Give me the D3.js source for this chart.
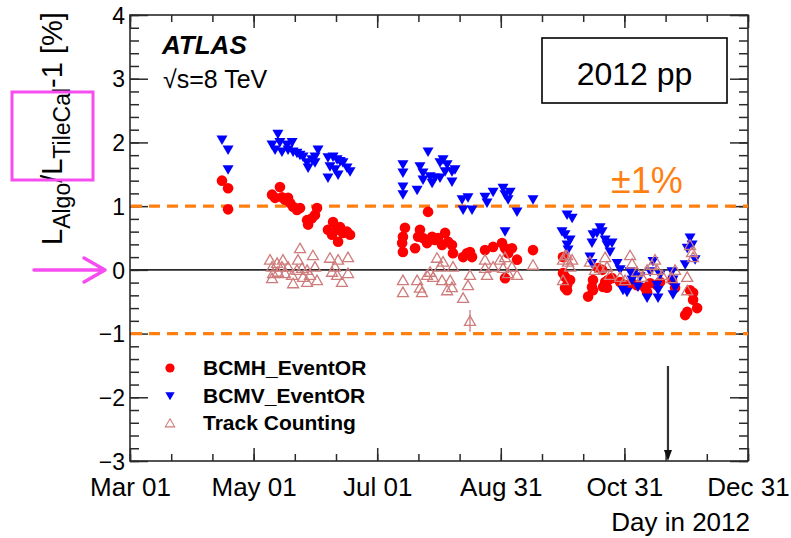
<!DOCTYPE html>
<html><head><meta charset="utf-8">
<script src="https://cdn.jsdelivr.net/npm/d3@7"></script>
<style>
body{margin:0;background:#fff}
svg{display:block}
text{font-family:"Liberation Sans",Arial,Helvetica,sans-serif;fill:#000}
</style></head><body>
<svg id="chart" width="791" height="538"></svg>
<script>
// Day-of-year axis (2012 is a leap year: Mar 01 = day 61, Dec 31 = day 366)
const dayTicks = [61, 122, 183, 244, 305, 366];
const dayLabels = ["Mar 01", "May 01", "Jul 01", "Aug 31", "Oct 31", "Dec 31"];
const yTicks = [-3, -2, -1, 0, 1, 2, 3, 4];
const bandLimits = [1, -1];

// [day of year, L_algo/L_TileCal - 1 in %]
const bcmh = [
  [106.4,1.40],[109.4,1.28],[109.4,0.95],
  [135,1.30],[131.1,1.18],[132.6,1.13],[136,1.14],[137.5,1.10],[139,1.13],[140,1.05],[141.5,0.99],
  [143.4,0.94],[144.9,0.97],[148.4,0.78],[148.9,0.71],[150.8,0.81],[152.3,0.86],[153.3,0.97],
  [158.7,0.63],[160.7,0.55],[161.2,0.75],[163.2,0.63],[164.7,0.67],[163.7,0.44],[166.1,0.58],
  [168.1,0.60],[169.6,0.55],
  [196.7,0.66],[195.7,0.52],[195.3,0.42],[195.7,0.28],[201.7,0.34],[204.1,0.63],[203.2,0.52],
  [205.6,0.50],[208.1,0.91],[207.6,0.42],[210.1,0.52],[211.5,0.47],[213,0.50],[215,0.39],
  [216.5,0.58],[218,0.44],[219.9,0.39],[220.4,0.26],[225.4,0.20],[227.3,0.26],[228.8,0.28],
  [229.8,0.20],[236.2,0.31],[240.2,0.36],[244.6,0.42],[246.1,0.34],[247.6,0.26],[249.5,0.34],
  [252,0.16],[246.1,-0.13],[259.9,0.31],
  [274.7,-0.05],[275.7,-0.28],[274.7,0.20],[275.7,-0.11],[276.7,-0.24],[276.7,-0.32],[278.2,-0.16],
  [287.1,-0.42],[289,-0.27],[289.5,-0.32],[289.5,-0.16],[292,0.03],[294,0.0],[294.5,-0.27],
  [295.5,-0.19],[296.9,-0.16],[296.4,-0.28],[298.9,-0.13],[302.9,-0.19],[305.3,-0.24],[308.8,-0.21],
  [311.2,-0.24],[315.2,-0.28],[316.2,-0.35],[317.7,-0.21],[321.1,-0.24],[322.6,-0.19],[328.5,-0.16],
  [330,-0.28],[335,-0.71],[336,-0.66],[337.4,-0.32],[338.9,-0.36],[338.9,-0.47],[340.9,-0.60]
];

const bcmv = [
  [106.4,2.04],[109.4,1.88],[109.4,1.57],
  [134,2.13],[131.1,1.96],[132.6,1.88],[135,2.0],[136,1.85],[138.5,1.96],[139,1.88],[141,2.0],
  [141.5,1.85],[143.4,1.83],[144.9,1.80],[146.4,1.77],[148.4,1.68],[148.9,1.60],[150.8,1.73],
  [152.3,1.77],[153.8,1.88],[152.3,1.68],[158.7,1.76],[159.7,1.62],[158.7,1.44],[161.2,1.77],
  [162.2,1.57],[163.7,1.49],[164.7,1.70],[166.1,1.68],[168.1,1.60],[169.6,1.54],[163.2,1.73],
  [195.7,1.65],[195.7,1.52],[195.7,1.30],[195.7,1.18],[202.7,1.25],[204.1,1.62],[205.6,1.52],
  [205.6,1.41],[208.1,1.85],[209.1,1.46],[210.1,1.36],[211.5,1.44],[214,1.68],[214,1.44],
  [215.5,1.73],[216.5,1.54],[217.5,1.65],[219.9,1.54],[219.9,1.38],[221.4,1.57],[224.9,1.10],
  [225.4,0.94],[227.8,1.13],[229.8,0.94],[236.2,1.14],[237.2,1.05],[240.2,1.22],[245.1,1.28],
  [246.1,1.18],[247.6,1.10],[248.6,1.22],[252,0.91],[246.1,0.60],[259.9,1.10],
  [274.2,0.60],[275.7,0.55],[276.7,0.39],[276.7,0.86],[279.2,0.81],[278.2,0.47],[277.2,0.31],
  [289,0.42],[289.5,0.55],[291.5,0.58],[293,0.66],[294,0.60],[288,0.20],[289,0.10],[295.5,0.47],
  [296.4,0.39],[298.9,0.42],[297.9,0.28],[301.4,0.10],[302.9,0.0],[304.3,-0.32],[306.3,-0.35],
  [307.8,-0.03],[308.8,-0.16],[309.3,-0.08],[311.7,-0.27],[312.7,-0.11],[316.2,-0.44],[317.7,-0.03],
  [319.1,0.13],[321.1,-0.24],[321.6,-0.32],[322.6,-0.08],[321.6,-0.44],[328.5,-0.03],[329,-0.16],
  [330,-0.28],[329,-0.39],[335,0.08],[336,0.34],[337.4,0.50],[338.4,0.39],[339.9,0.16]
];

// optional third entry: uncertainty in %
const track = [
  [144.9,0.34],[130.1,0.16],[131.1,0.05],[131.6,-0.05],[131.1,-0.13],[133.6,0.11],[134,-0.03],
  [136,0.05],[136.5,0.16],[137.5,-0.05],[139,0.05],[141,-0.08],[141.5,-0.21],[143.4,0.0],
  [143.9,0.16],[145.9,0.03],[146.4,-0.11],[148.4,-0.19],[148.4,0.0],[151.3,0.23],[152.3,0.05],
  [153.3,-0.16],[149.8,-0.08],[159.7,0.19],[160.7,-0.03],[162.2,0.05],[163.2,-0.08],[163.7,0.16],
  [165.6,-0.19],[168.6,0.20],[168.6,-0.05],
  [195.7,-0.16],[195.7,-0.35],[202.7,-0.16],[204.1,-0.28],[205.1,-0.35],[207.6,-0.08],[209.1,-0.03],
  [210.6,-0.11],[212.5,0.19],[214,0.05],[215,-0.16],[215.5,0.13],[217.5,-0.32],[219,-0.16],
  [219.9,-0.27],[220.4,0.05],[225.4,-0.44],[227.8,-0.24],[228.8,-0.08],[228.8,-0.80,0.17],
  [236.2,0.16],[236.2,0.03],[237.2,-0.08],[240.2,0.05],[243.6,0.16],[245.1,0.03],[246.1,0.20],
  [247.6,-0.05],[249.5,0.05],[252,-0.08],[259.9,0.08],
  [274.7,0.16],[276.7,0.23],[278.2,0.05],[274.7,-0.16],[275.7,0.23],[277.2,0.13],[279.2,0.16],
  [288,0.13],[290.5,0.0],[293,0.03],[295.5,0.20],[296.4,0.05],[297.9,-0.08],[302.9,-0.11],
  [305.3,-0.16],[307.8,0.23],[308.8,0.10],[311.2,-0.03],[313.7,-0.11],[316.2,0.0],[318.6,0.08],
  [320.1,0.16],[321.1,0.0],[323.6,-0.08],[328.5,-0.13],[330,0.0],[336,-0.11],[336,-0.32],
  [337.4,0.39],[338.4,0.28],[338.9,0.20]
];

const legendItems = ["BCMH_EventOR", "BCMV_EventOR", "Track Counting"];
const markedDay = 326.5;

const svg = d3.select("#chart");
const x = d3.scaleLinear().domain([61, 366]).range([130, 748]);
const y = d3.scaleLinear().domain([-3, 4]).range([461, 15]);

const AX = "#2a2a2a";
const ORANGE = "#ff8010";
const MAGENTA = "#f64df0";
const TRACK = "#cf7c7c";

const fmtY = d => d < 0 ? "\u2212" + Math.abs(d) : String(d);

function styleAxis(g) {
  g.select(".domain").remove();
  g.selectAll(".tick line").attr("stroke", AX).attr("stroke-width", 1.5);
  g.selectAll(".tick text").attr("fill", "#000").attr("font-family", null);
}

// x axis, ticks drawn inside the frame
const xMinor = d3.range(0, 16).map(i => 61 + i * 61 / 3);
svg.append("g").attr("transform", `translate(0,${y(-3)})`)
  .call(d3.axisBottom(x).tickValues(xMinor).tickFormat("").tickSizeInner(-7).tickSizeOuter(0))
  .call(styleAxis);
svg.append("g").attr("transform", `translate(0,${y(-3)})`)
  .call(d3.axisBottom(x).tickValues(dayTicks).tickFormat((d, i) => dayLabels[i])
        .tickSizeInner(-13).tickSizeOuter(0).tickPadding(17))
  .call(styleAxis)
  .call(g => g.selectAll(".tick text").attr("font-size", 26));
svg.append("g").attr("transform", `translate(0,${y(4)})`)
  .call(d3.axisTop(x).tickValues(xMinor).tickFormat("").tickSizeInner(-7).tickSizeOuter(0))
  .call(styleAxis);
svg.append("g").attr("transform", `translate(0,${y(4)})`)
  .call(d3.axisTop(x).tickValues(dayTicks).tickFormat("").tickSizeInner(-13).tickSizeOuter(0))
  .call(styleAxis);

// y axis, ticks inside the frame on both sides
const yMinor = d3.range(0, 36).map(i => -3 + i * 0.2);
svg.append("g").attr("transform", `translate(${x(61)},0)`)
  .call(d3.axisLeft(y).tickValues(yMinor).tickFormat("").tickSizeInner(-9).tickSizeOuter(0))
  .call(styleAxis);
svg.append("g").attr("transform", `translate(${x(61)},0)`)
  .call(d3.axisLeft(y).tickValues(yTicks).tickFormat(fmtY).tickSizeInner(-18).tickSizeOuter(0).tickPadding(5))
  .call(styleAxis)
  .call(g => g.selectAll(".tick text").attr("font-size", 23).attr("dy", "0.36em"));
svg.append("g").attr("transform", `translate(${x(366)},0)`)
  .call(d3.axisRight(y).tickValues(yMinor).tickFormat("").tickSizeInner(-9).tickSizeOuter(0))
  .call(styleAxis);
svg.append("g").attr("transform", `translate(${x(366)},0)`)
  .call(d3.axisRight(y).tickValues(yTicks).tickFormat("").tickSizeInner(-18).tickSizeOuter(0))
  .call(styleAxis);

// frame
svg.append("rect")
  .attr("x", x(61)).attr("y", y(4))
  .attr("width", x(366) - x(61)).attr("height", y(-3) - y(4))
  .attr("fill", "none").attr("stroke", AX).attr("stroke-width", 1.6);

// reference lines
svg.append("line")
  .attr("x1", x(61)).attr("x2", x(366)).attr("y1", y(0)).attr("y2", y(0))
  .attr("stroke", AX).attr("stroke-width", 1.8);
svg.selectAll("line.band").data(bandLimits).join("line").attr("class", "band")
  .attr("x1", x(61) + 1).attr("x2", x(366)).attr("y1", d => y(d)).attr("y2", d => y(d))
  .attr("stroke", ORANGE).attr("stroke-width", 3.2).attr("stroke-dasharray", "11,7");

// markers
const downTri = "M-5.5,-4.5L5.5,-4.5L0,5Z";
const upTri = "M0,-5L5.5,4.5L-5.5,4.5Z";

svg.append("g").selectAll("circle").data(bcmh).join("circle")
  .attr("cx", d => x(d[0])).attr("cy", d => y(d[1])).attr("r", 5.3)
  .attr("fill", "#ff0000");

svg.append("g").selectAll("path").data(bcmv).join("path")
  .attr("d", downTri).attr("transform", d => `translate(${x(d[0])},${y(d[1])})`)
  .attr("fill", "#0000ff");

const tg = svg.append("g");
tg.selectAll("line").data(track.filter(d => d.length > 2)).join("line")
  .attr("x1", d => x(d[0])).attr("x2", d => x(d[0]))
  .attr("y1", d => y(d[1] + d[2])).attr("y2", d => y(d[1] - d[2]))
  .attr("stroke", TRACK).attr("stroke-width", 1.3);
tg.selectAll("path").data(track).join("path")
  .attr("d", upTri).attr("transform", d => `translate(${x(d[0])},${y(d[1])})`)
  .attr("fill", "none").attr("stroke", TRACK).attr("stroke-width", 1.3);

// marked day arrow
svg.append("line")
  .attr("x1", x(markedDay)).attr("x2", x(markedDay))
  .attr("y1", 366).attr("y2", y(-3) - 9)
  .attr("stroke", "#333").attr("stroke-width", 2.2);
svg.append("path")
  .attr("d", `M${x(markedDay) - 4},${y(-3) - 11}L${x(markedDay) + 4},${y(-3) - 11}L${x(markedDay)},${y(-3)}Z`)
  .attr("fill", "#111");

// legend
const lg = svg.append("g");
const legY = [368, 396, 423];
lg.append("circle").attr("cx", 170).attr("cy", legY[0]).attr("r", 4.6).attr("fill", "#ff0000");
lg.append("path").attr("d", downTri).attr("transform", `translate(170,${legY[1]}) scale(0.85)`).attr("fill", "#0000ff");
lg.append("path").attr("d", upTri).attr("transform", `translate(170,${legY[2]}) scale(0.85)`)
  .attr("fill", "none").attr("stroke", TRACK).attr("stroke-width", 1.3);
lg.selectAll("text").data(legendItems).join("text")
  .attr("x", 203).attr("y", (d, i) => legY[i] + 7)
  .attr("font-size", 21).attr("font-weight", "bold").text(d => d);

// experiment labels
svg.append("text").attr("x", 162).attr("y", 54)
  .attr("font-size", 26).attr("font-weight", "bold").attr("font-style", "italic").text("ATLAS");
svg.append("text").attr("x", 163).attr("y", 88).attr("font-size", 25).text("\u221As=8 TeV");

// y title
const yt = svg.append("text").attr("transform", "translate(62,245) rotate(-90)").attr("font-size", 29);
yt.append("tspan").text("L");
yt.append("tspan").attr("dy", 8).attr("font-size", 23).text("Algo");
yt.append("tspan").attr("dy", -8).text("/L");
yt.append("tspan").attr("dy", 8).attr("font-size", 23).text("TileCal");
yt.append("tspan").attr("dy", -8).text("-1 [%]");

// x title
svg.append("text").attr("x", 750).attr("y", 531).attr("text-anchor", "end")
  .attr("font-size", 26).text("Day in 2012");

// run-period box
svg.append("rect").attr("x", 542).attr("y", 38).attr("width", 185).attr("height", 65)
  .attr("fill", "#fff").attr("stroke", "#000").attr("stroke-width", 1.6);
svg.append("text").attr("x", 634.5).attr("y", 85).attr("text-anchor", "middle")
  .attr("font-family", "'DejaVu Sans', sans-serif").attr("font-size", 32).text("2012 pp");

// band label
svg.append("text").attr("x", 611).attr("y", 193)
  .attr("font-family", "'DejaVu Sans', sans-serif").attr("font-size", 36)
  .attr("fill", ORANGE).style("fill", ORANGE).text("\u00B11%");

// highlight marks
svg.append("rect").attr("x", 12).attr("y", 92).attr("width", 81).attr("height", 88)
  .attr("fill", "none").attr("stroke", MAGENTA).attr("stroke-width", 3);
svg.append("path").attr("d", "M34,270H104M84,258L105,270L84,282")
  .attr("fill", "none").attr("stroke", MAGENTA).attr("stroke-width", 3.5)
  .attr("stroke-linecap", "round").attr("stroke-linejoin", "round");
</script>
</body></html>
